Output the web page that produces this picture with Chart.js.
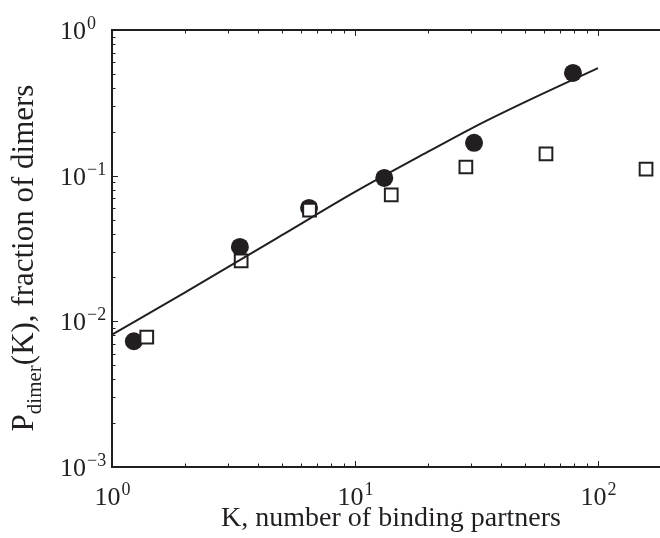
<!DOCTYPE html>
<html>
<head>
<meta charset="utf-8">
<script src="https://cdn.jsdelivr.net/npm/chart.js@4.4.1/dist/chart.umd.min.js"></script>
<style>
  html, body { margin: 0; padding: 0; background: #fff; }
  #wrap { width: 660px; height: 538px; }
</style>
</head>
<body>
<div id="wrap"><canvas id="chart" width="660" height="538"></canvas></div>
<script>
// filled circles
const circleK = [1.23, 3.36, 6.47, 13.2, 30.9, 78.9];
const circleP = [0.0073, 0.0324, 0.060, 0.0964, 0.168, 0.507];
// open squares
const squareK = [1.39, 3.40, 6.5, 14.1, 28.6, 61.1, 157.7];
const squareP = [0.0078, 0.026, 0.058, 0.0737, 0.1147, 0.141, 0.111];
// model curve
const curveK = [1, 2, 3.16, 5, 10, 20, 31.6, 50, 100];
const curveP = [0.0081, 0.0158, 0.0248, 0.039, 0.0773, 0.146, 0.22, 0.32, 0.548];

const xMajor = [1, 10, 100];
const xExp = ['0', '1', '2'];
const yMajor = [1, 0.1, 0.01, 0.001];
const yExp = ['0', '\u22121', '\u22122', '\u22123'];

const ink = '#231f20';
const serif = '"Liberation Serif", "Times New Roman", serif';

function pts(xs, ys) { return xs.map((x, i) => ({x: x, y: ys[i]})); }

// draws "10" with a raised exponent
function powText(ctx, exp, x, y, align) {
  ctx.font = '26px ' + serif;
  const wb = ctx.measureText('10').width;
  ctx.font = '18px ' + serif;
  const we = ctx.measureText(exp).width;
  let x0 = x;
  if (align === 'center') x0 = x - (wb + we) / 2;
  ctx.textAlign = 'left';
  ctx.textBaseline = 'alphabetic';
  ctx.font = '26px ' + serif;
  ctx.fillText('10', x0, y);
  ctx.font = '18px ' + serif;
  ctx.fillText(exp, x0 + wb + 1, y - 10);
}

const frame = {
  id: 'frame',
  afterDatasetsDraw(chart) {
    const ctx = chart.ctx;
    const a = chart.chartArea;
    const xs = chart.scales.x, ys = chart.scales.y;
    ctx.save();
    ctx.strokeStyle = ink;
    ctx.fillStyle = ink;
    ctx.lineWidth = 2;
    ctx.beginPath();
    ctx.moveTo(a.right + 2, a.top);
    ctx.lineTo(a.left, a.top);
    ctx.lineTo(a.left, a.bottom);
    ctx.lineTo(a.right + 2, a.bottom);
    ctx.stroke();

    // ticks (inward)
    ctx.lineWidth = 1;
    ctx.beginPath();
    for (let d = 1; d <= 100; d *= 10) {
      for (let m = 1; m <= 9; m++) {
        const v = d * m;
        if (v > xs.max) continue;
        const px = Math.round(xs.getPixelForValue(v)) + 0.5;
        const len = m === 1 ? 6 : 3.5;
        ctx.moveTo(px, a.bottom); ctx.lineTo(px, a.bottom - len);
        ctx.moveTo(px, a.top); ctx.lineTo(px, a.top + len);
      }
    }
    for (let d = 0.001; d < 1.5; d *= 10) {
      for (let m = 1; m <= 9; m++) {
        const v = d * m;
        if (v > 1.0001) continue;
        const py = Math.round(ys.getPixelForValue(v)) + 0.5;
        const len = m === 1 ? 6 : 3.5;
        ctx.moveTo(a.left, py); ctx.lineTo(a.left + len, py);
      }
    }
    ctx.stroke();

    // tick labels
    xMajor.forEach((v, i) => {
      powText(ctx, xExp[i], xs.getPixelForValue(v), a.bottom + 38, 'center');
    });
    yMajor.forEach((v, i) => {
      powText(ctx, yExp[i], a.left - 52, ys.getPixelForValue(v) + 9, 'left');
    });

    // x title
    ctx.font = '28px ' + serif;
    ctx.textAlign = 'center';
    ctx.fillText('K, number of binding partners', 391, 526);

    // y title with subscript
    ctx.translate(33, 258);
    ctx.rotate(-Math.PI / 2);
    const parts = [['P', 31, 0], ['dimer', 21, 8], ['(K), fraction of dimers', 31, 0]];
    let total = 0;
    parts.forEach(p => { ctx.font = p[1] + 'px ' + serif; total += ctx.measureText(p[0]).width; });
    let cx = -total / 2;
    ctx.textAlign = 'left';
    parts.forEach(p => {
      ctx.font = p[1] + 'px ' + serif;
      ctx.fillText(p[0], cx, p[2]);
      cx += ctx.measureText(p[0]).width;
    });
    ctx.restore();
  }
};

const ctx = document.getElementById('chart').getContext('2d');
new Chart(ctx, {
  type: 'scatter',
  data: {
    datasets: [
      {
        label: 'model',
        data: pts(curveK, curveP),
        showLine: true,
        borderColor: ink,
        borderWidth: 2,
        pointRadius: 0,
        cubicInterpolationMode: 'monotone',
        order: 0
      },
      {
        label: 'squares',
        data: pts(squareK, squareP),
        pointStyle: 'rect',
        pointRadius: 9,
        pointBackgroundColor: '#fff',
        pointBorderColor: ink,
        pointBorderWidth: 2,
        order: 1
      },
      {
        label: 'circles',
        data: pts(circleK, circleP),
        pointStyle: 'circle',
        pointRadius: 9,
        pointBackgroundColor: ink,
        pointBorderColor: ink,
        pointBorderWidth: 0,
        order: 2
      }
    ]
  },
  options: {
    responsive: false,
    animation: false,
    layout: { autoPadding: false, padding: { left: 112, top: 30, right: 0, bottom: 71 } },
    plugins: { legend: { display: false }, tooltip: { enabled: false } },
    scales: {
      x: { type: 'logarithmic', min: 1, max: 180, display: false },
      y: { type: 'logarithmic', min: 0.001, max: 1, display: false }
    }
  },
  plugins: [frame]
});
</script>
</body>
</html>
